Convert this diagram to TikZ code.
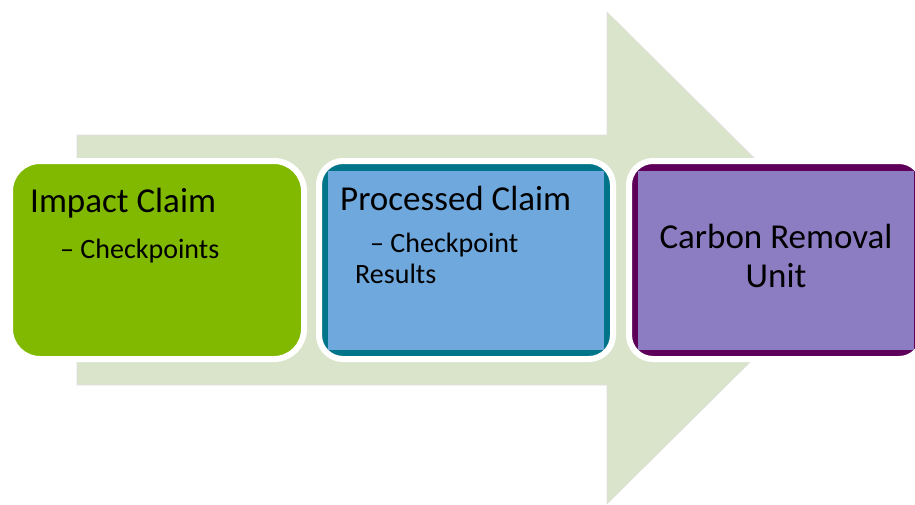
\documentclass[tikz,border=0pt]{standalone}
\usepackage{fontspec}
\setmainfont{Carlito}
\usetikzlibrary{positioning}
\definecolor{arrowfill}{HTML}{D9E4CB}
\definecolor{claimgreen}{HTML}{80B900}
\definecolor{procteal}{HTML}{00758A}
\definecolor{procblue}{HTML}{6FA8DC}
\definecolor{unitpurple}{HTML}{5E0059}
\definecolor{unitlav}{HTML}{8C7CC1}
\tikzstyle{card}=[draw=white, line width=6pt, minimum width=294pt, minimum height=198pt, inner sep=0pt]
\tikzstyle{panel}=[minimum width=276pt, minimum height=179pt, inner sep=0pt]
\tikzstyle{title}=[anchor=base west, inner sep=0pt, font=\fontsize{35}{42}\selectfont]
\tikzstyle{sub}=[anchor=base west, inner sep=0pt, font=\fontsize{28}{34}\selectfont]

\begin{document}
\begin{tikzpicture}[x=1pt,y=-1pt]
\clip (0,0) rectangle (915,504);
% big arrow behind the cards
\fill[arrowfill, draw=black!12, line width=.6pt] (77,135) -- (607,135) -- (607,12) -- (855,258) -- (607,504) -- (607,385) -- (77,385) -- cycle;
% cards
\node (claim) [card, fill=claimgreen, rounded corners=30pt] at (157,260) {};
\node (proc) [card, fill=procteal, rounded corners=24pt, right=9pt of claim] {};
\node (unit) [card, fill=unitpurple, rounded corners=24pt, right=10pt of proc] {};
\node (procin) [panel, fill=procblue] at (proc.center) {};
\node (unitin) [panel, fill=unitlav] at (unit.center) {};
% texts
\node (claimt) [title] at (30,212) {Impact Claim};
\node (claims) [sub] at (60,258) {– Checkpoints};
\node (proct) [title] at (340,210) {Processed Claim};
\node (procs) [sub] at (370,252) {– Checkpoint};
\node (procr) [sub] at (355,283) {Results};
\node (unitt) [title, anchor=base] at (776,248) {Carbon Removal};
\node (unitu) [title, anchor=base] at (776,287) {Unit};
\end{tikzpicture}
\end{document}
